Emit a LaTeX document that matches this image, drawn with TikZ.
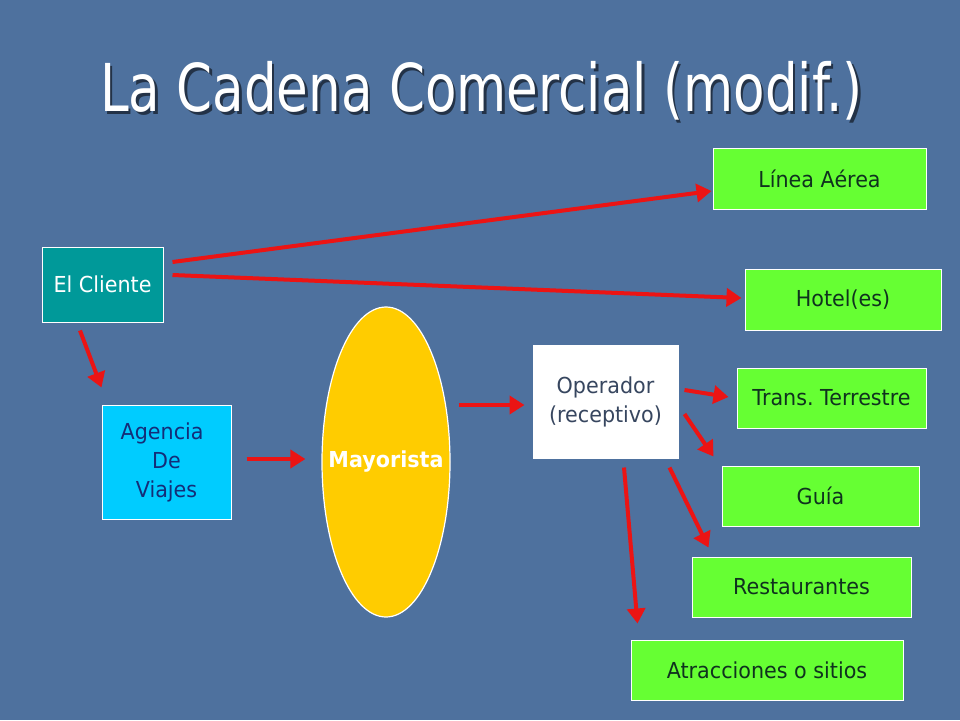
\documentclass[tikz,border=0pt]{standalone}
\usepackage{fontspec}
\usetikzlibrary{shapes.geometric,arrows.meta,calc}
\newfontfamily\bodyfont[FakeStretch=0.94]{DejaVu Sans}
\newfontfamily\titlefont[FakeStretch=0.78]{DejaVu Sans}
\definecolor{bg}{RGB}{78,113,158}
\definecolor{teal}{RGB}{0,153,153}
\definecolor{cyanbox}{RGB}{0,204,255}
\definecolor{agtext}{RGB}{20,45,120}
\definecolor{gold}{RGB}{255,204,0}
\definecolor{optext}{RGB}{55,70,95}
\definecolor{boxgreen}{RGB}{102,255,51}
\definecolor{greentext}{RGB}{15,50,30}
\definecolor{arrred}{RGB}{235,20,20}
\begin{document}
\frenchspacing
\begin{tikzpicture}[x=1pt,y=-1pt,
  box/.style={draw=white, line width=1pt, inner sep=0pt, align=center,
    font=\bodyfont\fontsize{22}{29}\selectfont},
  gbox/.style={box, fill=boxgreen, text=greentext, minimum height=60pt},
  arr/.style={draw=arrred, line width=4pt, -{Triangle[length=15pt,width=18pt]}},
  titletext/.style={anchor=base, inner sep=0pt, font=\titlefont\fontsize{66}{70}\selectfont}]
\useasboundingbox (0,0) rectangle (960,720);
\fill[bg] (0,0) rectangle (960,720);
% title
\node[titletext, text=black, opacity=0.55] (titleshadow) at (484,114) {La Cadena Comercial (modif.)};
\node[titletext, text=white] (title) at (481.5,111) {La Cadena Comercial (modif.)};
% nodes
\node[box, fill=teal, text=white, minimum width=121pt, minimum height=75pt] (cliente) at (102.5,284.5) {El Cliente};
\node[box, fill=cyanbox, text=agtext, minimum width=129pt, minimum height=114pt] (agencia) at (166.5,462) {Agencia\hspace*{0.4em}\\De\\Viajes};
\node[box, shape=ellipse, fill=gold, text=white, minimum width=128pt, minimum height=310pt, line width=1.2pt] (mayorista) at (386,462) {\makebox[0pt]{\bfseries Mayorista}};
\node[box, fill=white, text=optext, minimum width=145pt, minimum height=113pt] (operador) at (605.5,401.5) {Operador\\(receptivo)};
\node[gbox, minimum width=213pt, minimum height=61pt] (linea) at (819.5,178.5) {Línea Aérea};
\node[gbox, minimum width=196pt, minimum height=61pt] (hotel) at (843,299.5) {Hotel(es)};
\node[gbox, minimum width=189pt] (trans) at (831.5,398) {Trans. Terrestre};
\node[gbox, minimum width=197pt] (guia) at (820.5,496) {Guía};
\node[gbox, minimum width=219pt] (rest) at (801.5,587) {Restaurantes};
\node[gbox, minimum width=272pt] (atrac) at (767,670) {Atracciones o sitios};
% connectors
\draw[arr] ($(cliente.east)+(9,-22.5)$) -- ($(linea.west)+(-1,12.5)$);
\draw[arr] ($(cliente.east)+(9,-9.5)$) -- ($(hotel.west)+(-3,-1.5)$);
\draw[arr] ($(cliente.south)+(-22.5,8)$) -- ($(agencia.north west)+(0,-17)$);
\draw[arr] ($(agencia.east)+(15,-3)$) -- ($(mayorista.west)+(-16,-3)$);
\draw[arr] ($(mayorista.east)+(8,-57)$) -- ($(operador.west)+(-8,3.5)$);
\draw[arr] ($(operador.east)+(6,-11.5)$) -- ($(trans.west)+(-8,-1)$);
\draw[arr] ($(operador.east)+(6,12.5)$) -- ($(guia.north west)+(-8,-9)$);
\draw[arr] ($(operador.south east)+(-9,9)$) -- ($(rest.north west)+(17,-9)$);
\draw[arr] ($(operador.south)+(18.5,9)$) -- ($(atrac.north west)+(7,-16)$);
\end{tikzpicture}
\end{document}
